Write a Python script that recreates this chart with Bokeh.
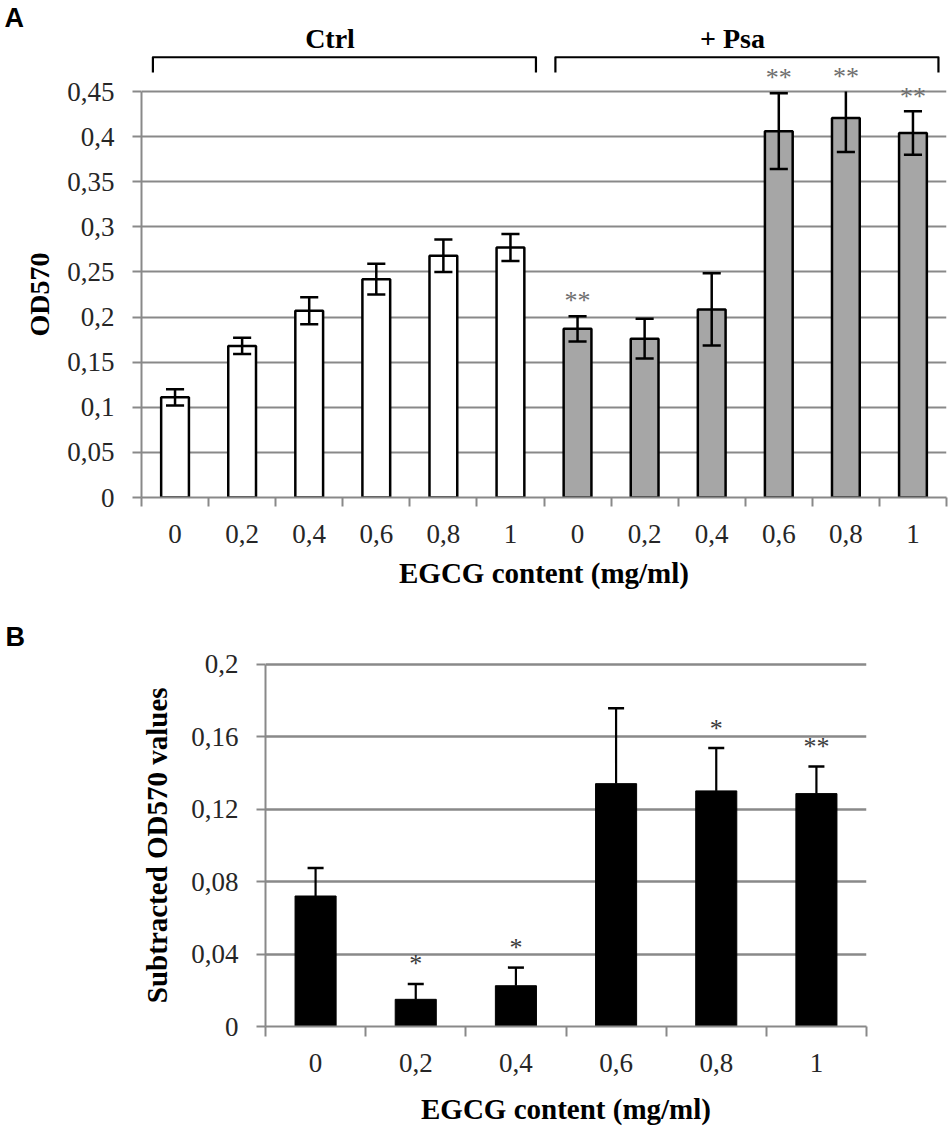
import math
from bokeh.plotting import figure
from bokeh.models import FixedTicker, Range1d
from bokeh.layouts import row
from bokeh.core.properties import value
from bokeh.embed import file_html
from bokeh.resources import INLINE

# ---------------- data ----------------
egcg_levels = ["0", "0,2", "0,4", "0,6", "0,8", "1"]
a_groups = ["Ctrl", "+ Psa"]
a_ctrl = [0.111, 0.168, 0.207, 0.242, 0.268, 0.277]
a_ctrl_err = [0.009, 0.009, 0.015, 0.017, 0.018, 0.015]
a_psa = [0.187, 0.176, 0.2085, 0.406, 0.4205, 0.404]
a_psa_err = [0.014, 0.022, 0.040, 0.042, 0.0375, 0.024]
a_psa_sig = ["**", "", "", "**", "**", "**"]
a_yticks = [0, 0.05, 0.1, 0.15, 0.2, 0.25, 0.3, 0.35, 0.4, 0.45]
a_ytick_labels = ["0", "0,05", "0,1", "0,15", "0,2", "0,25", "0,3", "0,35", "0,4", "0,45"]
a_ylabel = "OD570"

b_values = [0.072, 0.015, 0.0225, 0.134, 0.130, 0.1285]
b_err = [0.0155, 0.0085, 0.010, 0.0416, 0.0237, 0.015]
b_sig = ["", "*", "*", "", "*", "**"]
b_yticks = [0, 0.04, 0.08, 0.12, 0.16, 0.2]
b_ytick_labels = ["0", "0,04", "0,08", "0,12", "0,16", "0,2"]
b_ylabel = "Subtracted OD570 values"

x_title = "EGCG content (mg/ml)"
panel_labels = ["A", "B"]

# ---------------- style / layout ----------------
SERIF = "Liberation Serif"
SANS = "Liberation Sans"
GRID = "#898989"
TICK_TXT = "#262626"
PAGE_W = 950


def style_axes(p, yticks, ylabels, n, xl_standoff, xt_standoff):
    p.outline_line_color = None
    p.background_fill_color = "white"
    p.border_fill_color = "white"
    p.xgrid.visible = False
    p.ygrid.grid_line_color = GRID
    p.ygrid.grid_line_width = 2
    ya = p.yaxis[0]
    ya.ticker = FixedTicker(ticks=yticks)
    ya.major_label_overrides = dict(zip(yticks, ylabels))
    ya.bounds = (yticks[0], yticks[-1])
    ya.axis_line_color = GRID
    ya.axis_line_width = 2
    ya.major_tick_line_color = GRID
    ya.major_tick_line_width = 2
    ya.major_tick_out = 9
    ya.major_tick_in = 0
    ya.minor_tick_line_color = None
    ya.major_label_text_font = SERIF
    ya.major_label_text_font_size = "27px"
    ya.major_label_text_color = TICK_TXT
    ya.major_label_standoff = 18
    xa = p.xaxis[0]
    centers = list(range(n))
    xa.ticker = FixedTicker(ticks=centers, minor_ticks=[c - 0.5 for c in centers] + [n - 0.5])
    xa.major_label_overrides = {c: egcg_levels[c % len(egcg_levels)] for c in centers}
    xa.major_tick_line_color = None
    xa.major_tick_out = 0
    xa.major_tick_in = 0
    xa.minor_tick_line_color = GRID
    xa.minor_tick_line_width = 2
    xa.minor_tick_out = 9
    xa.minor_tick_in = 0
    xa.axis_line_color = GRID
    xa.axis_line_width = 2
    xa.major_label_text_font = SERIF
    xa.major_label_text_font_size = "27px"
    xa.major_label_text_color = TICK_TXT
    xa.major_label_standoff = xt_standoff
    xa.axis_label = x_title
    xa.axis_label_text_font = SERIF
    xa.axis_label_text_font_style = "bold"
    xa.axis_label_text_font_size = "29px"
    xa.axis_label_text_color = "black"
    xa.axis_label_standoff = xl_standoff


def side_strip(width, height, top, bottom, y_range):
    s = figure(width=width, height=height, x_range=Range1d(0, width), y_range=y_range,
               x_axis_location=None, y_axis_location=None, output_backend="svg",
               toolbar_location=None, min_border_left=0, min_border_right=0,
               min_border_top=top, min_border_bottom=bottom)
    s.outline_line_color = None
    s.grid.visible = False
    s.background_fill_color = "white"
    s.border_fill_color = "white"
    return s


# ================= Panel A =================
A_H = 605
A_STRIP = 56
A_FRAME_L, A_FRAME_R, A_FRAME_T, A_FRAME_B = 141, 946, 0, 497
A_PPU = 902.2
a_y_range = Range1d(0, (A_FRAME_B - A_FRAME_T) / A_PPU)
n_a = len(a_ctrl) + len(a_psa)


def a_py(page_y):
    return (A_FRAME_B - page_y) / A_PPU


pa = figure(width=PAGE_W - A_STRIP, height=A_H, x_range=Range1d(-0.5, n_a - 0.5), y_range=a_y_range,
            output_backend="svg", toolbar_location=None,
            min_border_left=A_FRAME_L - A_STRIP, min_border_right=PAGE_W - A_FRAME_R,
            min_border_top=A_FRAME_T, min_border_bottom=A_H - A_FRAME_B)
style_axes(pa, a_yticks, a_ytick_labels, n_a, 11, 18)

xa_ctrl = list(range(len(a_ctrl)))
xa_psa = [len(a_ctrl) + i for i in range(len(a_psa))]
BAR_W_A = 0.414
pa.vbar(x=xa_ctrl, top=a_ctrl, bottom=0, width=BAR_W_A, fill_color="white",
        line_color="black", line_width=2.5)
pa.vbar(x=xa_psa, top=a_psa, bottom=0, width=BAR_W_A, fill_color="#a6a6a6",
        line_color="black", line_width=2.5)

# error bars (clipped at the top of the value axis, like the original)
a_lim = a_yticks[-1]
xs_all = xa_ctrl + xa_psa
vs_all = a_ctrl + a_psa
es_all = a_ctrl_err + a_psa_err
lo = [v - e for v, e in zip(vs_all, es_all)]
hi = [min(v + e, a_lim) for v, e in zip(vs_all, es_all)]
CAP_A = 0.135
pa.segment(x0=xs_all, y0=lo, x1=xs_all, y1=hi, line_color="black", line_width=2.5)
pa.segment(x0=[x - CAP_A for x in xs_all], y0=lo, x1=[x + CAP_A for x in xs_all], y1=lo,
           line_color="black", line_width=2.5)
cap_idx = [i for i, (v, e) in enumerate(zip(vs_all, es_all)) if v + e <= a_lim]
pa.segment(x0=[xs_all[i] - CAP_A for i in cap_idx], y0=[hi[i] for i in cap_idx],
           x1=[xs_all[i] + CAP_A for i in cap_idx], y1=[hi[i] for i in cap_idx],
           line_color="black", line_width=2.5)

# significance stars
STAR_OFF_A = 0.017
sx = [xa_psa[i] for i, s in enumerate(a_psa_sig) if s]
sy = [min(a_psa[i] + a_psa_err[i], a_lim) + STAR_OFF_A for i, s in enumerate(a_psa_sig) if s]
st = [s for s in a_psa_sig if s]
pa.text(x=sx, y=sy, text=st, text_font=value(SERIF), text_font_size="26px",
        text_color="#6e6e6e", text_align="center", text_baseline="middle")

# group brackets + labels
BR_Y = a_lim + 0.038
BR_D = 0.017
BR_PAD_L, BR_PAD_R = 0.17, 0.12
groups_idx = [xa_ctrl, xa_psa]
bxs, bys, gx = [], [], []
for idx in groups_idx:
    x0 = idx[0] - 0.5 + BR_PAD_L
    x1 = idx[-1] + 0.5 - BR_PAD_R
    bxs.append([x0, x0, x1, x1])
    bys.append([BR_Y - BR_D, BR_Y, BR_Y, BR_Y - BR_D])
    gx.append((idx[0] + idx[-1]) / 2 - 0.19)
pa.multi_line(xs=bxs, ys=bys, line_color="black", line_width=2.2, line_join="round")
pa.text(x=gx, y=[BR_Y + 0.021] * len(gx), text=a_groups, text_font=value(SERIF),
        text_font_style="bold", text_font_size="28px", text_color="black",
        text_align="center", text_baseline="middle")

# left strip: panel letter + y-axis title (centred on the value axis span)
la = side_strip(A_STRIP, A_H, A_FRAME_T, A_H - A_FRAME_B, a_y_range)
la.text(x=[4], y=[a_py(17)], text=[panel_labels[0]], text_font=value(SANS),
        text_font_style="bold", text_font_size="27px", text_color="black",
        text_align="left", text_baseline="middle")
la.text(x=[39], y=[(a_yticks[0] + a_yticks[-1]) / 2], text=[a_ylabel], angle=math.pi / 2,
        text_font=value(SERIF), text_font_style="bold", text_font_size="28px",
        text_color="black", text_align="center", text_baseline="middle")

# ================= Panel B =================
B_H = 522
B_TOP = A_H
B_STRIP = 180
B_FRAME_L, B_FRAME_R = 265, 866
B_FRAME_T, B_FRAME_B = 615, 1027
B_PPU = 1816.7
b_y_range = Range1d(0, (B_FRAME_B - B_FRAME_T) / B_PPU)
n_b = len(b_values)


def b_py(page_y):
    return (B_FRAME_B - page_y) / B_PPU


pb = figure(width=PAGE_W - B_STRIP, height=B_H, x_range=Range1d(-0.5, n_b - 0.5), y_range=b_y_range,
            output_backend="svg", toolbar_location=None,
            min_border_left=B_FRAME_L - B_STRIP, min_border_right=PAGE_W - B_FRAME_R,
            min_border_top=B_FRAME_T - B_TOP, min_border_bottom=B_TOP + B_H - B_FRAME_B)
style_axes(pb, b_yticks, b_ytick_labels, n_b, 18, 17)
pb.ygrid.grid_line_width = 2.5
pb.xaxis[0].minor_tick_out = 10

xb = list(range(n_b))
pb.vbar(x=xb, top=b_values, bottom=0, width=0.41, fill_color="black", line_color="black",
        line_width=1)
CAP_B = 0.08
b_hi = [v + e for v, e in zip(b_values, b_err)]
pb.segment(x0=xb, y0=b_values, x1=xb, y1=b_hi, line_color="black", line_width=2.2)
pb.segment(x0=[x - CAP_B for x in xb], y0=b_hi, x1=[x + CAP_B for x in xb], y1=b_hi,
           line_color="black", line_width=2.5)
STAR_OFF_B = 0.011
bsx = [xb[i] for i, s in enumerate(b_sig) if s]
bsy = [b_hi[i] + STAR_OFF_B for i, s in enumerate(b_sig) if s]
bst = [s for s in b_sig if s]
pb.text(x=bsx, y=bsy, text=bst, text_font=value(SERIF), text_font_size="26px",
        text_color="#3a3a3a", text_align="center", text_baseline="middle")

lb = side_strip(B_STRIP, B_H, B_FRAME_T - B_TOP, B_TOP + B_H - B_FRAME_B, b_y_range)
lb.text(x=[5], y=[b_py(637)], text=[panel_labels[1]], text_font=value(SANS),
        text_font_style="bold", text_font_size="27px", text_color="black",
        text_align="left", text_baseline="middle")
lb.text(x=[156], y=[(b_yticks[0] + b_yticks[-1]) / 2], text=[b_ylabel], angle=math.pi / 2,
        text_font=value(SERIF), text_font_style="bold", text_font_size="29px",
        text_color="black", text_align="center", text_baseline="middle")

open("out.html", "w").write(file_html([row(la, pa), row(lb, pb)], INLINE))
